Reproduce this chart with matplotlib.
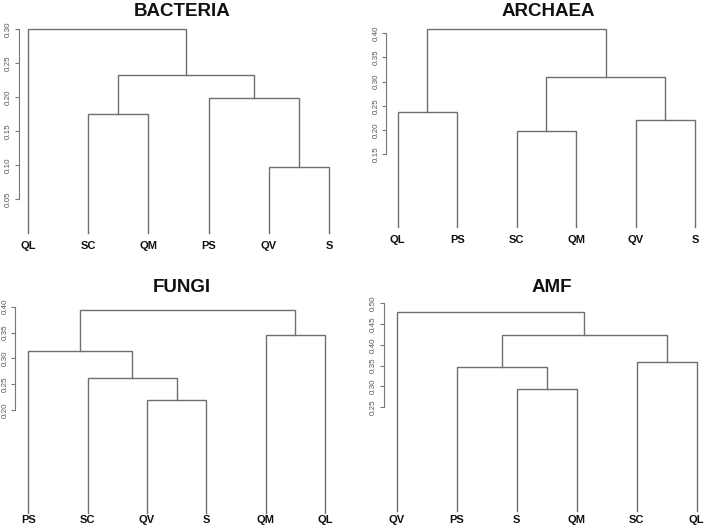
import matplotlib
matplotlib.use("Agg")
import matplotlib.pyplot as plt

plt.rcParams['font.family'] = ['Liberation Sans', 'DejaVu Sans']

W, H = 709, 528

# leaf order (left to right) and merges (child a, child b, height); new clusters numbered 6, 7, ...
bacteria_leaves = ["QL", "SC", "QM", "PS", "QV", "S"]
bacteria_merges = [(4, 5, 0.097), (1, 2, 0.175), (3, 6, 0.198), (7, 8, 0.232), (0, 9, 0.300)]
bacteria_ticks = [0.05, 0.10, 0.15, 0.20, 0.25, 0.30]

archaea_leaves = ["QL", "PS", "SC", "QM", "QV", "S"]
archaea_merges = [(2, 3, 0.197), (4, 5, 0.220), (0, 1, 0.238), (6, 7, 0.310), (8, 9, 0.408)]
archaea_ticks = [0.15, 0.20, 0.25, 0.30, 0.35, 0.40]

fungi_leaves = ["PS", "SC", "QV", "S", "QM", "QL"]
fungi_merges = [(2, 3, 0.2195), (1, 6, 0.261), (0, 7, 0.314), (4, 5, 0.345), (8, 9, 0.393)]
fungi_ticks = [0.20, 0.25, 0.30, 0.35, 0.40]

amf_leaves = ["QV", "PS", "S", "QM", "SC", "QL"]
amf_merges = [(2, 3, 0.294), (1, 6, 0.347), (4, 5, 0.358), (7, 8, 0.424), (0, 9, 0.480)]
amf_ticks = [0.25, 0.30, 0.35, 0.40, 0.45, 0.50]

# title, leaves, merges, ticks, leaf1 x px, px per leaf, baseline y px, px per unit,
# axis x (data), title x/y px, leaf label y px
panels = [
    ("BACTERIA", bacteria_leaves, bacteria_merges, bacteria_ticks, 28, 60.2, 233, 680, 0.85, 182, 11, 246),
    ("ARCHAEA", archaea_leaves, archaea_merges, archaea_ticks, 397.7, 59.5, 226.7, 483.5, 0.81, 548, 11, 240),
    ("FUNGI", fungi_leaves, fungi_merges, fungi_ticks, 28.3, 59.3, 513.3, 516.5, 0.78, 182, 287, 520),
    ("AMF", amf_leaves, amf_merges, amf_ticks, 396.7, 60, 510.7, 423.4, 0.79, 552, 287, 520),
]

line_col = "#6f6f6f"

fig = plt.figure(figsize=(W / 100, H / 100), dpi=100)

for title, leaves, merges, ticks, x1, dx, y0, dy, axx, tx, ty, ly in panels:
    xlo, xhi = 0.5, 6.5
    ytop = max(m[2] for m in merges) * 1.02
    left = x1 + (xlo - 1) * dx
    top_px = y0 - ytop * dy
    ax = fig.add_axes([left / W, 1 - y0 / H, (xhi - xlo) * dx / W, (y0 - top_px) / H])
    ax.set_xlim(xlo, xhi)
    ax.set_ylim(0, ytop)

    xs = {i: i + 1 for i in range(len(leaves))}
    hs = {i: 0.0 for i in range(len(leaves))}
    for k, (a, b, h) in enumerate(merges):
        ax.plot([xs[a], xs[a], xs[b], xs[b]], [hs[a], h, h, hs[b]],
                color=line_col, lw=1.0, solid_joinstyle='miter', clip_on=False)
        new = len(leaves) + k
        xs[new] = (xs[a] + xs[b]) / 2
        hs[new] = h

    for i, lab in enumerate(leaves):
        ax.text(i + 1, -(ly - y0) / dy, lab, ha='center', va='center',
                fontsize=8, fontweight='bold', color='#111111')

    for s in ['top', 'right', 'bottom']:
        ax.spines[s].set_visible(False)
    ax.spines['left'].set_position(('data', axx))
    ax.spines['left'].set_bounds(ticks[0], ticks[-1])
    ax.spines['left'].set_color('#777777')
    ax.spines['left'].set_linewidth(0.8)
    ax.set_xticks([])
    ax.set_yticks(ticks)
    ax.set_yticklabels([f"{t:.2f}" for t in ticks], rotation=90, va='center',
                       fontsize=5.8, color='#555555')
    ax.tick_params(axis='y', length=3, width=0.8, color='#777777', pad=2)
    ax.patch.set_visible(False)

    fig.text(tx / W, 1 - ty / H, title, ha='center', va='center',
             fontsize=13.5, fontweight='bold', color='#111111')

fig.savefig("out.png", dpi=100)
